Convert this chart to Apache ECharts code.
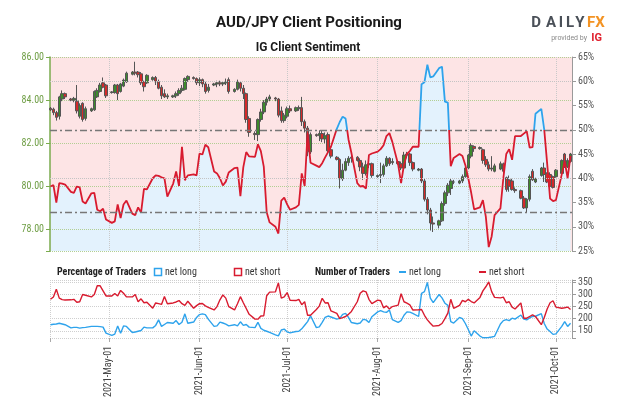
<!DOCTYPE html>
<html><head><meta charset="utf-8">
<script src="https://cdn.jsdelivr.net/npm/echarts@6/dist/echarts.min.js"></script>
<style>html,body{margin:0;padding:0;background:#fff}#c{width:624px;height:416px}</style>
</head><body><div id="c"></div>
<script>
// ---- data ----
const dates = [
'04-11','04-12','04-13','04-14','04-15','04-16',
'04-18','04-19','04-20','04-21','04-22','04-23',
'04-25','04-26','04-27','04-28','04-29','04-30',
'05-02','05-03','05-04','05-05','05-06','05-07',
'05-09','05-10','05-11','05-12','05-13','05-14',
'05-16','05-17','05-18','05-19','05-20','05-21',
'05-23','05-24','05-25','05-26','05-27','05-28',
'05-30','05-31','06-01','06-02','06-03','06-04',
'06-06','06-07','06-08','06-09','06-10','06-11',
'06-13','06-14','06-15','06-16','06-17','06-18',
'06-20','06-21','06-22','06-23','06-24','06-25',
'06-27','06-28','06-29','06-30','07-01','07-02',
'07-04','07-05','07-06','07-07','07-08','07-09',
'07-11','07-12','07-13','07-14','07-15','07-16',
'07-18','07-19','07-20','07-21','07-22','07-23',
'07-25','07-26','07-27','07-28','07-29','07-30',
'08-01','08-02','08-03','08-04','08-05','08-06',
'08-08','08-09','08-10','08-11','08-12','08-13',
'08-15','08-16','08-17','08-18','08-19','08-20',
'08-22','08-23','08-24','08-25','08-26','08-27',
'08-29','08-30','08-31','09-01','09-02','09-03',
'09-05','09-06','09-07','09-08','09-09','09-10',
'09-12','09-13','09-14','09-15','09-16','09-17',
'09-19','09-20','09-21','09-22','09-23','09-24',
'09-26','09-27','09-28','09-29','09-30','10-01',
'10-03','10-04','10-05','10-06'];

const open = [
83.62,83.58,83.42,83.25,84.05,84.30, 84.05,84.00,83.95,83.25,83.85,83.15,
83.50,83.55,84.15,84.40,84.80,84.70, 84.35,84.35,84.70,84.40,84.65,84.85,
85.20,85.30,85.30,85.22,84.85,84.80, 84.95,85.05,84.85,84.60,84.30,84.15,
84.15,84.20,84.30,84.45,84.50,84.95, 85.05,85.00,84.80,84.95,84.75,84.45,
84.70,84.75,84.80,84.75,84.80,84.95, 84.40,84.50,84.80,84.55,84.30,83.15,
82.45,82.40,83.10,83.45,83.90,84.05, 84.10,84.05,83.50,83.05,83.25,83.60,
83.50,83.60,83.65,83.00,82.70,81.60, 82.40,82.35,82.45,82.20,82.40,81.70,
81.35,81.25,80.35,80.75,81.10,81.30, 81.35,81.20,80.90,80.60,81.00,81.05,
80.45,80.50,80.55,80.95,81.30,81.10, 81.15,81.05,80.85,81.45,81.50,81.10,
80.75,80.80,80.25,79.40,78.90,78.30, 78.20,78.40,79.20,79.70,79.90,80.20,
80.15,80.25,80.45,80.85,81.40,81.85, 81.75,81.70,81.25,81.00,80.80,80.70,
80.80,81.05,80.40,80.30,80.25,79.85, 79.80,79.45,79.00,79.40,80.70,80.20,
80.50,80.85,80.60,80.55,80.45,80.45, 80.60,81.50,80.90,81.15];
const high = [
83.68,83.65,83.50,84.20,84.45,84.35, 84.10,84.15,84.70,83.85,83.90,83.70,
83.65,84.45,84.55,84.80,85.05,84.75, 84.42,84.75,84.75,84.80,85.00,85.32,
85.35,85.78,85.35,85.30,84.90,85.20, 85.10,85.12,84.95,84.70,84.50,84.30,
84.25,84.40,84.55,84.70,85.05,85.15, 85.10,85.05,85.05,85.00,84.85,84.75,
84.80,84.90,84.90,84.88,85.00,85.05, 84.55,84.95,84.85,84.70,84.35,83.25,
82.55,83.15,83.60,84.00,84.15,84.25, 84.15,84.10,83.70,83.40,83.70,83.75,
83.70,83.75,84.15,83.10,82.80,82.50, 82.45,82.60,82.60,82.50,82.50,81.85,
81.40,81.30,81.05,81.30,81.40,81.50, 81.40,81.30,81.10,81.20,81.25,81.10,
80.55,81.10,81.05,81.40,81.35,81.30, 81.20,81.15,81.60,81.60,81.55,81.15,
80.85,80.85,80.35,79.50,79.00,78.60, 78.45,79.30,79.80,80.15,80.35,80.30,
80.30,80.55,80.90,81.50,82.00,81.90, 81.85,81.75,81.40,81.15,81.40,81.05,
81.15,81.10,80.45,80.50,80.35,79.95, 79.85,79.55,79.45,80.55,80.80,80.40,
80.90,81.10,80.65,80.65,80.50,80.80, 81.25,81.55,81.30,81.55];
const low = [
83.50,83.30,83.05,83.10,83.95,84.05, 83.95,83.90,83.38,83.15,83.00,83.05,
83.45,83.50,84.10,84.35,84.55,84.10, 84.30,84.30,84.00,84.35,84.60,84.80,
85.15,85.15,85.05,84.70,84.40,84.75, 84.90,84.70,84.50,84.05,84.10,84.05,
84.10,84.10,84.20,84.35,84.45,84.85, 84.95,84.70,84.65,84.60,84.30,84.35,
84.65,84.60,84.65,84.65,84.70,84.30, 84.35,84.45,84.40,84.05,82.95,82.30,
82.15,82.10,83.00,83.35,83.75,83.95, 83.95,83.20,82.95,82.95,83.15,83.40,
83.45,83.50,82.80,82.50,81.40,81.50, 82.30,82.10,82.05,82.00,81.50,81.30,
81.20,79.90,80.25,80.70,80.95,81.10, 81.15,80.70,80.30,80.50,80.85,80.40,
80.40,80.15,80.45,80.90,80.95,81.00, 81.00,80.75,80.80,81.30,80.95,80.70,
80.70,80.15,79.30,78.70,77.95,77.88, 78.05,78.35,79.10,79.55,79.60,80.10,
80.10,80.15,80.40,80.80,81.30,81.60, 81.70,81.05,80.90,80.70,80.70,80.65,
80.75,80.60,79.75,79.75,79.80,79.70, 79.40,78.95,78.80,79.30,80.25,80.15,
80.45,80.20,80.15,79.90,79.90,80.40, 80.55,80.85,80.85,81.10];
const close = [
83.55,83.42,83.20,84.15,84.30,84.15, 84.00,84.08,83.50,83.75,83.10,83.60,
83.60,84.40,84.45,84.70,84.60,84.20, 84.38,84.70,84.30,84.75,84.93,85.25,
85.30,85.25,85.18,84.80,84.62,85.15, 85.05,84.85,84.55,84.20,84.15,84.20,
84.20,84.30,84.45,84.55,85.00,85.10, 85.00,84.80,84.95,84.75,84.40,84.60,
84.75,84.80,84.75,84.80,84.85,84.40, 84.50,84.85,84.55,84.30,83.10,82.50,
82.40,83.10,83.45,83.90,84.05,84.15, 84.05,83.30,83.05,83.30,83.60,83.50,
83.65,83.65,83.00,82.70,81.60,82.40, 82.35,82.45,82.20,82.35,81.65,81.40,
81.25,80.35,80.75,81.15,81.30,81.35, 81.20,80.90,80.60,81.00,81.05,80.50,
80.50,80.55,80.95,81.30,81.05,81.15, 81.05,80.85,81.45,81.50,81.10,80.80,
80.80,80.25,79.40,78.90,78.30,78.25, 78.40,79.20,79.70,80.05,80.25,80.20,
80.25,80.45,80.85,81.45,81.90,81.75, 81.80,81.20,81.00,80.80,80.85,80.95,
81.05,80.70,79.85,80.00,79.85,79.80, 79.45,79.00,79.40,80.45,80.30,80.35,
80.85,80.55,80.20,80.00,79.95,80.75, 81.20,80.90,81.20,81.50];

// % of traders net long
const pctLong = [
38.3,38.6,35.0,39.0,38.9,38.7, 37.2,37.0,38.3,38.1,35.2,34.8,
36.9,37.0,33.5,33.2,33.7,31.5, 30.8,31.1,34.6,31.8,34.6,35.4,
32.7,32.4,34.0,32.9,37.8,37.7, 40.0,40.6,40.5,40.2,40.0,36.2,
38.9,41.4,38.4,46.5,39.6,40.6, 40.8,40.6,45.1,44.9,46.9,46.4,
41.4,41.0,40.0,38.5,39.3,41.2, 42.1,42.2,36.3,42.3,45.4,44.5,
44.4,47.0,45.6,42.4,33.0,30.9, 30.0,28.6,35.4,36.0,34.6,33.5,
34.0,34.5,41.0,38.4,49.3,43.2, 42.6,42.3,43.1,44.3,45.4,46.5,
50.2,51.6,52.7,52.3,48.0,45.2, 39.0,38.3,38.4,37.9,44.8,45.1,
45.5,46.0,46.8,48.7,49.3,47.5, 42.8,39.0,42.8,45.0,45.6,46.5,
46.5,59.4,59.8,63.4,60.8,61.0, 62.7,63.0,55.8,55.6,42.5,44.2,
45.0,44.6,42.7,40.0,37.0,33.6, 34.0,35.5,32.1,25.8,28.0,32.4,
33.8,40.0,45.0,46.0,43.8,48.7, 48.7,49.2,49.7,46.3,46.4,53.3,
54.3,50.0,43.0,35.8,35.3,35.5, 40.8,43.5,40.0,44.6];

// number of traders
const netLong = [
175,177,178,181,178,175, 162,164,164,161,163,164,
168,168,168,167,165,140, 131,136,170,140,170,168,
143,145,148,151,165,162, 162,172,195,168,176,184,
181,192,176,185,220,181, 186,205,217,220,217,198,
168,170,186,182,177,170, 175,170,187,172,176,165,
163,185,160,152,148,143, 133,129,153,157,145,141,
147,148,158,173,188,212, 163,166,185,205,211,207,
198,201,218,222,205,184, 179,182,197,195,184,208,
228,233,228,226,236,196, 185,192,214,228,227,222,
209,305,312,350,285,266, 300,286,264,255,188,182,
205,200,180,155,128,150, 128,121,121,122,124,127,
178,192,196,192,202,198, 215,198,195,203,209,210,
221,180,157,147,135,137, 168,188,168,181];
const netShort = [
280,290,322,285,279,277, 278,280,268,270,300,297,
290,300,336,336,315,294, 294,304,294,317,305,290,
290,300,270,282,266,268, 243,265,262,259,292,262,
265,269,275,262,255,272, 243,254,262,263,253,247,
236,250,278,298,285,250, 236,262,291,266,242,218,
198,198,211,212,295,310, 311,348,285,290,308,276,
275,280,258,270,214,214, 238,252,284,265,266,232,
222,200,204,209,218,230, 270,305,315,311,280,262,
277,274,245,253,240,250, 256,303,270,264,257,236,
237,238,214,195,181,169, 172,180,200,223,280,243,
255,276,270,280,271,265, 288,315,332,352,312,288,
286,289,266,270,248,240, 265,202,202,209,216,209,
175,205,240,266,274,248, 243,245,248,238];

const priceTicks = [78, 80, 82, 84, 86];
const countTicks = [150, 200, 250, 300, 350];
const monthStarts = ['05-01','06-01','07-01','08-01','09-01','10-01'];
const monthNames = ['Jan','Feb','Mar','Apr','May','Jun','Jul','Aug','Sep','Oct','Nov','Dec'];
const sentimentThreshold = 50;

// ---- build ----
const toTime = s => { const p = s.split('-').map(Number); return new Date(2021, p[0]-1, p[1]).getTime(); };
const T = dates.map(toTime);
const monthT = monthStarts.map(toTime);
const xMin = new Date(2021, 3, 10, 20).getTime();
const xMax = new Date(2021, 9, 6, 12).getTime();

const BLUE = '#2ea3ec', RED = '#d81b2f';
const NARROW = '"Liberation Sans Narrow","Arial Narrow","Roboto Condensed",Roboto,sans-serif';
const GREEN_TXT = '#6f9e45';
const pad2 = n => (n < 10 ? '0' : '') + n;
const fmtDate = v => { const d = new Date(v); return d.getFullYear() + '-' + monthNames[d.getMonth()] + '-' + pad2(d.getDate()); };

const candleData = T.map((t, i) => [t, open[i], close[i], low[i], high[i]]);
const pctData = T.map((t, i) => [t, pctLong[i]]);
const longData = T.map((t, i) => [t, netLong[i]]);
const shortData = T.map((t, i) => [t, netShort[i]]);

const chart = echarts.init(document.getElementById('c'), null, {renderer: 'canvas'});

function txt(x, y, text, font, fill, align) {
  return {type: 'text', x: x, y: y, silent: true, style: {text: text, font: font, fill: fill,
    align: align || 'left', textAlign: align || 'left', verticalAlign: 'middle', textVerticalAlign: 'middle'}};
}

const logoLetters = [['D',536,'#4a5058'],['A',551,'#4a5058'],['I',561,'#4a5058'],['L',570,'#4a5058'],['Y',580,'#4a5058'],['F',591,'#f39323'],['X',600,'#f39323']];

const graphics = [
  txt(309, 23, 'AUD/JPY Client Positioning', 'bold 15px Roboto', '#1a1a1a', 'center'),
  txt(308, 48, 'IG Client Sentiment', 'bold 12px Roboto', '#1a1a1a', 'center'),
  ...logoLetters.map(l => txt(l[1], 23, l[0], 'bold 15px Roboto', l[2], 'center')),
  txt(587, 38, 'provided by', '7px Roboto', '#8a8a8a', 'right'),
  txt(602, 38, 'IG', 'bold 11px Roboto', '#e0202e', 'right'),
  txt(57, 272, 'Percentage of Traders', 'bold 10px ' + NARROW, '#222', 'left'),
  {type: 'rect', silent: true, shape: {x: 154.5, y: 268.5, width: 7, height: 7}, style: {fill: '#fff', stroke: BLUE, lineWidth: 1.5}},
  txt(165, 272, 'net long', '10px ' + NARROW, '#333', 'left'),
  {type: 'rect', silent: true, shape: {x: 234.5, y: 268.5, width: 7, height: 7}, style: {fill: '#fff', stroke: RED, lineWidth: 1.5}},
  txt(245, 272, 'net short', '10px ' + NARROW, '#333', 'left'),
  txt(315, 272, 'Number of Traders', 'bold 10px ' + NARROW, '#222', 'left'),
  {type: 'line', silent: true, shape: {x1: 399, y1: 272, x2: 406, y2: 272}, style: {stroke: BLUE, lineWidth: 2}},
  txt(409, 272, 'net long', '10px ' + NARROW, '#333', 'left'),
  {type: 'line', silent: true, shape: {x1: 479, y1: 272, x2: 486, y2: 272}, style: {stroke: RED, lineWidth: 2}},
  txt(489, 272, 'net short', '10px ' + NARROW, '#333', 'left')
];

const option = {
  animation: false,
  backgroundColor: '#fff',
  textStyle: {fontFamily: NARROW},
  grid: [
    {left: 50, right: 52, top: 57, height: 194, show: true, backgroundColor: '#fde4e5', borderWidth: 0},
    {left: 50, right: 52, top: 280, height: 58, show: false}
  ],
  xAxis: [
    {type: 'value', gridIndex: 0, min: xMin, max: xMax, z: 2,
     axisLine: {show: false}, axisLabel: {show: false},
     axisTick: {show: false, customValues: monthT},
     splitLine: {show: true, lineStyle: {color: '#c9c9c9', type: 'dotted', width: 1}}},
    {type: 'value', gridIndex: 1, min: xMin, max: xMax, z: 2,
     axisLine: {show: false},
     axisTick: {show: true, length: 4, lineStyle: {color: '#aaa'}, customValues: [xMin].concat(monthT)},
     axisLabel: {show: true, rotate: 90, margin: 8, fontSize: 10, color: '#444', fontFamily: NARROW,
                 customValues: monthT, formatter: fmtDate},
     splitLine: {show: true, lineStyle: {color: '#cfcfcf', type: 'dotted', width: 1}}}
  ],
  yAxis: [
    {type: 'value', gridIndex: 0, position: 'left', min: 77, max: 86, z: 2,
     axisLine: {show: true, lineStyle: {color: '#7aab4e', width: 1.5}},
     axisTick: {show: true, length: 4, lineStyle: {color: '#7aab4e'}, customValues: [77].concat(priceTicks)},
     axisLabel: {show: true, margin: 6, fontSize: 10, color: GREEN_TXT, fontFamily: NARROW,
                 customValues: priceTicks, formatter: v => v.toFixed(2)},
     splitLine: {show: true, lineStyle: {color: '#b2cf93', type: 'dotted', width: 1}}},
    {type: 'value', gridIndex: 0, position: 'right', min: 25, max: 65, interval: 5, z: 2,
     axisLine: {show: true, lineStyle: {color: '#9a9a9a', width: 1}},
     axisTick: {show: true, length: 4, lineStyle: {color: '#9a9a9a'}},
     axisLabel: {show: true, margin: 6, fontSize: 10, color: '#555', fontFamily: NARROW, formatter: '{value}%'},
     splitLine: {show: false}},
    {type: 'value', gridIndex: 1, position: 'right', min: 120, max: 360, z: 2,
     axisLine: {show: true, lineStyle: {color: '#9a9a9a', width: 1}},
     axisTick: {show: true, length: 4, lineStyle: {color: '#9a9a9a'}, customValues: [120].concat(countTicks, [360])},
     axisLabel: {show: true, margin: 6, fontSize: 10, color: '#555', fontFamily: NARROW, customValues: countTicks},
     splitLine: {show: true, lineStyle: {color: '#cfcfcf', type: 'dotted', width: 1}}}
  ],
  series: [
    {type: 'candlestick', name: 'AUD/JPY', xAxisIndex: 0, yAxisIndex: 0, z: 3,
     data: candleData, encode: {x: 0, y: [1, 2, 3, 4]}, barWidth: 3,
     itemStyle: {color: '#3d8b2c', color0: '#d42a2a', borderColor: '#555', borderColor0: '#555', borderWidth: 1}},
    {type: 'line', name: 'area', xAxisIndex: 0, yAxisIndex: 1, z: 1, silent: true,
     data: pctData, symbol: 'none', lineStyle: {width: 0, opacity: 0},
     areaStyle: {color: '#e3f2fd', opacity: 1, origin: 'start'},
     markLine: {silent: true, symbol: 'none', label: {show: false}, animation: false,
       data: [
         {yAxis: 60, lineStyle: {color: '#c4c4c4', type: 'dotted', width: 1}},
         {yAxis: 40, lineStyle: {color: '#c4c4c4', type: 'dotted', width: 1}},
         {yAxis: 50, lineStyle: {color: '#777', type: [7, 3, 2, 3], width: 1.3}},
         {yAxis: 33, lineStyle: {color: '#777', type: [7, 3, 2, 3], width: 1.3}}
       ]}},
    {type: 'line', name: 'sentiment', xAxisIndex: 0, yAxisIndex: 1, z: 4,
     data: pctData, symbol: 'none', lineStyle: {width: 1.8, color: RED}, itemStyle: {color: RED}},
    {type: 'line', name: 'net long', xAxisIndex: 1, yAxisIndex: 2, z: 3,
     data: longData, symbol: 'none', lineStyle: {width: 1.4, color: BLUE}, itemStyle: {color: BLUE}},
    {type: 'line', name: 'net short', xAxisIndex: 1, yAxisIndex: 2, z: 3,
     data: shortData, symbol: 'none', lineStyle: {width: 1.4, color: RED}, itemStyle: {color: RED}}
  ],
  graphic: graphics
};
chart.setOption(option);

// colour the sentiment line blue above the threshold, red below (split position from the axis scale)
const yTop = chart.convertToPixel({yAxisIndex: 1}, 65);
const yBot = chart.convertToPixel({yAxisIndex: 1}, 25);
const yThr = chart.convertToPixel({yAxisIndex: 1}, sentimentThreshold);
const f = (yThr - yTop) / (yBot - yTop);
chart.setOption({series: [{}, {}, {lineStyle: {color: new echarts.graphic.LinearGradient(0, yTop, 0, yBot, [
  {offset: 0, color: BLUE}, {offset: f, color: BLUE}, {offset: f, color: RED}, {offset: 1, color: RED}], true)}}]});
</script>
</body></html>
